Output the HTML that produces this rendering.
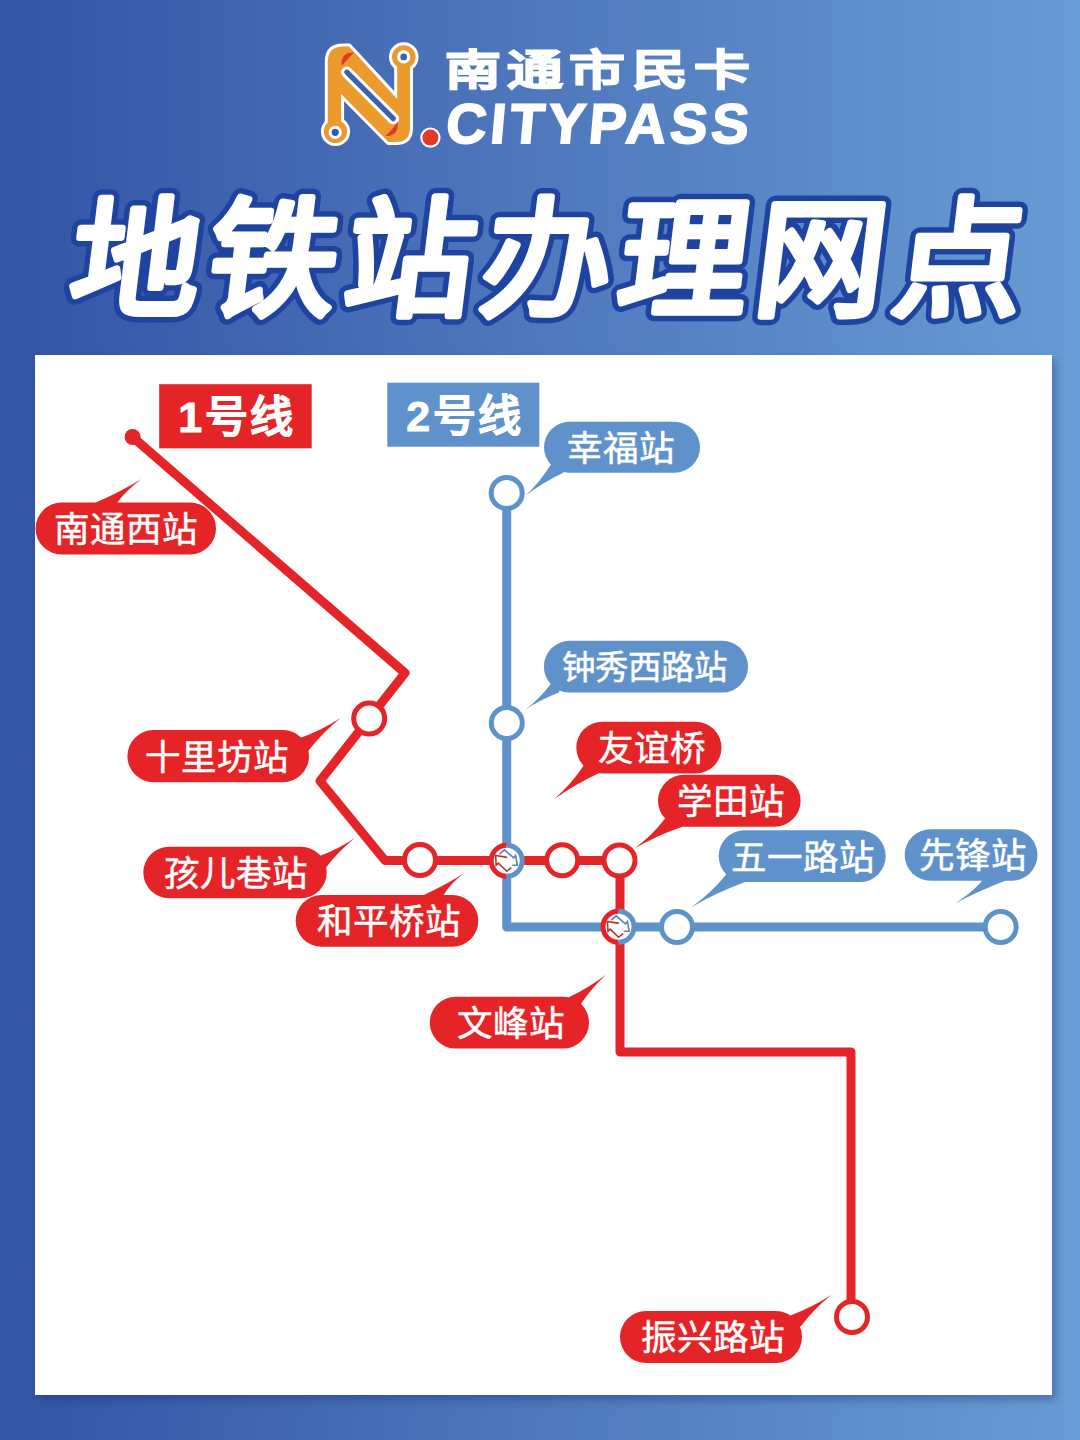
<!DOCTYPE html>
<html lang="zh-CN">
<head>
<meta charset="utf-8">
<title>南通市民卡 地铁站办理网点</title>
<style>
html,body{margin:0;padding:0;}
body{width:1080px;height:1440px;overflow:hidden;position:relative;
  background:linear-gradient(90deg,#3454A6 0%,#4F78BD 50%,#689CD4 100%);
  font-family:"Liberation Sans",sans-serif;}
.abs{position:absolute;}
#card{left:35px;top:355px;width:1017px;height:1040px;background:#fff;
  box-shadow:4px 5px 8px rgba(20,40,100,0.35);}
#map{left:0;top:0;width:1080px;height:1440px;}
.brand-cn{left:445px;top:50px;color:#fff;font-size:42px;font-weight:bold;white-space:nowrap;
  transform-origin:0 0;transform:scaleX(1.33);letter-spacing:4.8px;line-height:1;-webkit-text-stroke:1.5px #fff;}
.brand-en{left:444px;top:96px;color:#fff;font-size:56px;font-weight:bold;white-space:nowrap;letter-spacing:3.8px;line-height:1;-webkit-text-stroke:1.8px #fff;transform-origin:0 100%;transform:skewX(-5deg);}
</style>
</head>
<body>
<div id="card" class="abs"></div>

<!-- logo -->
<svg class="abs" style="left:0;top:0" width="1080" height="180" viewBox="0 0 1080 180">
  <g fill="#fff" stroke="#fff" stroke-width="6" stroke-linejoin="round">
    <path d="M327.8 62 Q327.8 46.6 343 46.6 L349 46.6 L397.2 98.9 L397.2 62 L410 62 L410 128 Q410 142 396 142 L388.5 142 L341.1 94 L341.1 131 L327.8 131 Z"/>
    <circle cx="403.8" cy="57" r="11.8"/>
    <circle cx="335.5" cy="131.5" r="11.6"/>
  </g>
  <g fill="#EC9A2D">
    <path d="M327.8 62 Q327.8 46.6 343 46.6 L349 46.6 L397.2 98.9 L397.2 62 L410 62 L410 128 Q410 142 396 142 L388.5 142 L341.1 94 L341.1 131 L327.8 131 Z"/>
    <circle cx="403.8" cy="57" r="11.8"/>
    <circle cx="335.5" cy="131.5" r="11.6"/>
  </g>
  <circle cx="403.7" cy="56.9" r="6.6" fill="#fff"/>
  <circle cx="403.7" cy="56.9" r="3.4" fill="#3C5FAE"/>
  <circle cx="335.2" cy="132.3" r="6.6" fill="#fff"/>
  <circle cx="335.2" cy="132.3" r="3.6" fill="#385AAB"/>
  <path d="M346.8 72.2 L393.3 118.6" stroke="#fff" stroke-width="11.5" stroke-linecap="round"/>
  <path d="M346.8 72.2 L393.3 118.6" stroke="#3C5FAE" stroke-width="5.2" stroke-linecap="round"/>
  <path d="M341.7 65.8 Q340.5 52 353.9 52.4 Q347.5 59 341.7 65.8 Z" fill="#E0392A"/>
  <path d="M385.6 136.1 Q399 136 397.8 121.7 Q392 130 385.6 136.1 Z" fill="#E0392A"/>
  <circle cx="430.4" cy="137.6" r="10.2" fill="#fff"/>
  <circle cx="430.4" cy="137.6" r="8" fill="#E23A2A"/>
</svg>
<div class="abs brand-cn">南通市民卡</div>
<div class="abs brand-en">CITYPASS</div>

<svg class="abs" style="left:0;top:0" width="1080" height="360" viewBox="0 0 1080 360" font-family="Liberation Sans, sans-serif">
  <g transform="translate(0,326) skewX(-7) translate(0,-326)" font-size="130" font-weight="bold" letter-spacing="7.6">
    <text x="63.5" y="306.5" fill="#1E43A0" stroke="#1E43A0" stroke-width="14" stroke-linejoin="round">地铁站办理网点</text>
    <text x="63.5" y="306.5" fill="#fff" stroke="#fff" stroke-width="3" stroke-linejoin="round">地铁站办理网点</text>
  </g>
</svg>

<svg id="map" class="abs" width="1080" height="1440" viewBox="0 0 1080 1440" font-family="Liberation Sans, sans-serif">
<g fill="none" stroke-linejoin="round" stroke-linecap="round">
<path d="M506.7 493 L506.7 927 L1000.7 927" stroke="#5F92CB" stroke-width="9"/>
<path d="M132.6 437 L405 673 L320 781 L385 860.5 L620 860.5 L620 1052 L851 1052 L851 1317" stroke="#E52427" stroke-width="9"/>
</g>
<circle cx="132.6" cy="437" r="8" fill="#E52427"/>
<circle cx="369.2" cy="718.6" r="15.5" fill="#fff" stroke="#E52427" stroke-width="5"/>
<circle cx="420" cy="860" r="15.5" fill="#fff" stroke="#E52427" stroke-width="5"/>
<circle cx="562.2" cy="860.2" r="15.5" fill="#fff" stroke="#E52427" stroke-width="5"/>
<circle cx="619.5" cy="860.5" r="15.5" fill="#fff" stroke="#E52427" stroke-width="5"/>
<circle cx="852" cy="1317" r="15.5" fill="#fff" stroke="#E52427" stroke-width="5"/>
<circle cx="506.7" cy="493" r="15.5" fill="#fff" stroke="#5F92CB" stroke-width="5"/>
<circle cx="506.8" cy="723" r="15.5" fill="#fff" stroke="#5F92CB" stroke-width="5"/>
<circle cx="677" cy="927" r="15.5" fill="#fff" stroke="#5F92CB" stroke-width="5"/>
<circle cx="1000.7" cy="927" r="15.5" fill="#fff" stroke="#5F92CB" stroke-width="5"/>
<circle cx="506.7" cy="860.7" r="15.5" fill="#fff"/>
<path d="M506.7 845.2 A15.5 15.5 0 0 0 506.7 876.2" fill="none" stroke="#E52427" stroke-width="5"/>
<path d="M506.7 845.2 A15.5 15.5 0 0 1 506.7 876.2" fill="none" stroke="#5F92CB" stroke-width="5"/>
<g transform="translate(506.7,860.7)" fill="none" stroke-width="1.6" stroke-linejoin="miter">
<path d="M-7.2 -6.6 L-2.4 -10.8 L7 -2.8 L8.9 -5.3 L10.6 4.5 L5.6 4.5" stroke="#5B82B8"/>
<path d="M0.4 -3.3 L-11.1 -5.3 L-10.5 4.5 L-8.3 2.5 L0 10.6 L4.7 7" stroke="#A93A33"/>
</g>
<circle cx="618.5" cy="926.7" r="15.5" fill="#fff"/>
<path d="M618.5 911.2 A15.5 15.5 0 0 0 618.5 942.2" fill="none" stroke="#E52427" stroke-width="5"/>
<path d="M618.5 911.2 A15.5 15.5 0 0 1 618.5 942.2" fill="none" stroke="#5F92CB" stroke-width="5"/>
<g transform="translate(618.5,926.7)" fill="none" stroke-width="1.6" stroke-linejoin="miter">
<path d="M-7.2 -6.6 L-2.4 -10.8 L7 -2.8 L8.9 -5.3 L10.6 4.5 L5.6 4.5" stroke="#5B82B8"/>
<path d="M0.4 -3.3 L-11.1 -5.3 L-10.5 4.5 L-8.3 2.5 L0 10.6 L4.7 7" stroke="#A93A33"/>
</g>
<rect x="159.2" y="384.2" width="152.5" height="64.1" fill="#E52427"/>
<rect x="387.3" y="382.7" width="152" height="64" fill="#5F92CB"/>
<text x="237" y="432" font-size="43" font-weight="bold" fill="#fff" stroke="#fff" stroke-width="0.9" letter-spacing="2.5" text-anchor="middle">1号线</text>
<text x="465" y="431" font-size="43" font-weight="bold" fill="#fff" stroke="#fff" stroke-width="0.9" letter-spacing="2.5" text-anchor="middle">2号线</text>
<path d="M94.8 505.0 L94.8 503.0 Q122.1 490.9 141.5 478.9 Q125.3 490.9 117.0 503.0 L117.0 505.0 Z" fill="#E52427"/>
<rect x="35.6" y="502.6" width="180.4" height="51.8" rx="25.9" fill="#E52427"/>
<text x="125.8" y="541.8" font-size="35.5" fill="#fff" stroke="#fff" stroke-width="0.5" text-anchor="middle">南通西站</text>
<path d="M299.3 739.2 L300.7 737.8 Q322.0 730.2 340.7 717.8 Q323.1 732.1 308.1 751.1 L306.1 751.5 Z" fill="#E52427"/>
<rect x="127.4" y="730.1" width="181.6" height="52.1" rx="26.1" fill="#E52427"/>
<text x="216.7" y="769.5" font-size="35.5" fill="#fff" stroke="#fff" stroke-width="0.5" text-anchor="middle">十里坊站</text>
<path d="M317.4 857.6 L318.9 856.3 Q337.9 849.5 354.8 838.1 Q338.7 851.2 324.8 868.9 L322.8 869.2 Z" fill="#E52427"/>
<rect x="143.3" y="846.7" width="183.4" height="51.6" rx="25.8" fill="#E52427"/>
<text x="236.0" y="885.8" font-size="35.5" fill="#fff" stroke="#fff" stroke-width="0.5" text-anchor="middle">孩儿巷站</text>
<path d="M424.4 896.8 L424.4 894.8 Q447.5 884.0 463.7 873.3 Q450.2 884.0 443.7 894.8 L443.7 896.8 Z" fill="#E52427"/>
<rect x="295.7" y="895" width="182.6" height="51.7" rx="25.9" fill="#E52427"/>
<text x="388.5" y="934.2" font-size="35.5" fill="#fff" stroke="#fff" stroke-width="0.5" text-anchor="middle">和平桥站</text>
<path d="M585.1 764.2 L583.7 765.6 Q571.7 783.8 554.1 799.3 Q573.9 784.8 599.3 773.0 L599.5 771.0 Z" fill="#E52427"/>
<rect x="576.3" y="721.7" width="145.2" height="51.8" rx="25.9" fill="#E52427"/>
<text x="651.9" y="760.9" font-size="35.5" fill="#fff" stroke="#fff" stroke-width="0.5" text-anchor="middle">友谊桥</text>
<path d="M665.9 817.9 L664.4 819.3 Q652.6 835.2 634.4 848.5 Q655.1 836.3 682.2 826.7 L682.3 824.7 Z" fill="#E52427"/>
<rect x="658" y="774.8" width="142.6" height="51.9" rx="26.0" fill="#E52427"/>
<text x="731.3" y="814.1" font-size="35.5" fill="#fff" stroke="#fff" stroke-width="0.5" text-anchor="middle">学田站</text>
<path d="M568.8 998.9 L569.3 997.0 Q589.9 986.9 606.3 974.4 Q591.6 987.8 581.1 1003.7 L579.7 1005.1 Z" fill="#E52427"/>
<rect x="429.8" y="996.7" width="159.2" height="51.9" rx="25.9" fill="#E52427"/>
<text x="510.6" y="1036.0" font-size="35.5" fill="#fff" stroke="#fff" stroke-width="0.5" text-anchor="middle">文峰站</text>
<path d="M790.0 1316.8 L791.1 1315.2 Q813.1 1306.9 831.5 1294.8 Q814.5 1308.4 801.1 1325.9 L799.3 1326.7 Z" fill="#E52427"/>
<rect x="620" y="1311" width="182.0" height="52.0" rx="26.0" fill="#E52427"/>
<text x="712.8" y="1350.3" font-size="35.5" fill="#fff" stroke="#fff" stroke-width="0.5" text-anchor="middle">振兴路站</text>
<path d="M551.9 463.8 L550.4 465.2 Q540.1 481.9 525.2 495.9 Q541.9 482.9 563.3 472.7 L563.8 470.8 Z" fill="#5F92CB"/>
<rect x="544" y="421.7" width="156.0" height="51.0" rx="25.5" fill="#5F92CB"/>
<text x="620.8" y="460.5" font-size="35.5" fill="#fff" stroke="#fff" stroke-width="0.5" text-anchor="middle">幸福站</text>
<path d="M551.9 683.1 L550.4 684.4 Q539.5 698.5 525.6 709.6 Q540.7 699.6 558.9 692.6 L559.7 690.8 Z" fill="#5F92CB"/>
<rect x="543.9" y="640.7" width="204.1" height="51.9" rx="25.9" fill="#5F92CB"/>
<text x="644.5" y="679.2" font-size="33.5" fill="#fff" stroke="#fff" stroke-width="0.5" text-anchor="middle">钟秀西路站</text>
<path d="M727.3 873.4 L725.9 874.8 Q712.0 892.4 691.1 907.4 Q714.7 893.4 745.2 882.1 L745.2 880.1 Z" fill="#5F92CB"/>
<rect x="718.7" y="830.2" width="167.0" height="51.9" rx="25.9" fill="#5F92CB"/>
<text x="803.4" y="869.5" font-size="35.5" fill="#fff" stroke="#fff" stroke-width="0.5" text-anchor="middle">五一路站</text>
<path d="M982.2 878.8 L982.2 880.8 Q972.6 892.2 954.8 903.7 Q975.9 892.2 1005.2 880.8 L1005.2 878.8 Z" fill="#5F92CB"/>
<rect x="904.7" y="829.2" width="132.8" height="51.6" rx="25.8" fill="#5F92CB"/>
<text x="973.1" y="868.3" font-size="35.5" fill="#fff" stroke="#fff" stroke-width="0.5" text-anchor="middle">先锋站</text>
</svg>
</body>
</html>
